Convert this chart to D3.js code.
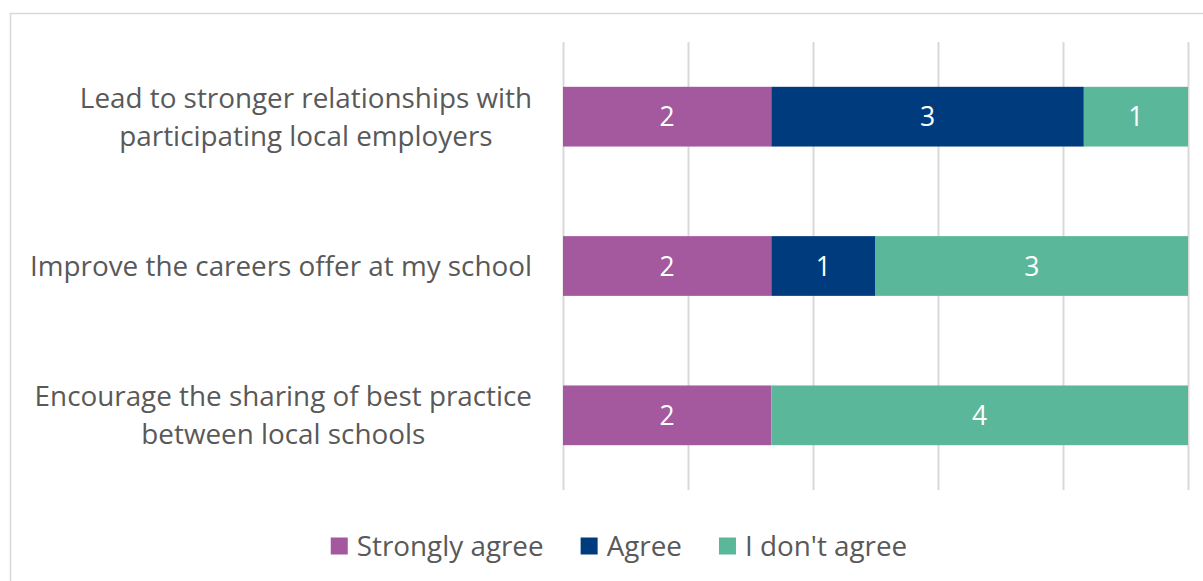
<!DOCTYPE html>
<html>
<head>
<meta charset="utf-8">
<script src="https://cdn.jsdelivr.net/npm/d3@7"></script>
<style>
  html, body { margin: 0; padding: 0; background: #fff; }
  svg { display: block; }
  text { font-family: "Open Sans", Lato, sans-serif; }
</style>
</head>
<body>
<svg id="chart" width="1203" height="581"></svg>
<script>
// Survey statements (top to bottom), each split into display lines
const categories = [
  "Lead to stronger relationships with participating local employers",
  "Improve the careers offer at my school",
  "Encourage the sharing of best practice between local schools"
];
const categoryLines = [
  ["Lead to stronger relationships with", "participating local employers"],
  ["Improve the careers offer at my school"],
  ["Encourage the sharing of best practice", "between local schools"]
];
const seriesNames = ["Strongly agree", "Agree", "I don't agree"];
const stronglyAgree = [2, 2, 2];
const agree = [3, 1, 0];
const dontAgree = [1, 3, 4];
const xTicks = [0, 1.2, 2.4, 3.6, 4.8, 6];
const colors = ["#A4589E", "#003C7D", "#5BB799"];

const svg = d3.select("#chart");

// pick a font size so the longest single-line label is ~502px wide
const probe = svg.append("text").attr("font-size", 26).text(categoryLines[1][0]);
const fs = 26 * 502 / probe.node().getComputedTextLength();
probe.remove();

// chart frame
svg.append("rect")
  .attr("x", 10.5).attr("y", 13.5)
  .attr("width", 1200).attr("height", 600)
  .attr("fill", "none").attr("stroke", "#D9D9D9").attr("stroke-width", 1.5);

const plot = { left: 563, right: 1188, top: 42, bottom: 490 };

const x = d3.scaleLinear().domain([0, 6]).range([plot.left, plot.right]);
const y = d3.scaleBand().domain(categories).range([plot.top, plot.bottom]).paddingInner(0.6).paddingOuter(0.3);

// vertical gridlines
svg.append("g")
  .attr("transform", `translate(0,${plot.bottom})`)
  .call(d3.axisBottom(x).tickValues(xTicks).tickSize(-(plot.bottom - plot.top)).tickFormat(""))
  .call(g => g.select(".domain").remove())
  .call(g => g.selectAll(".tick line").attr("stroke", "#D9D9D9").attr("stroke-width", 2));

// stacked data
const rows = categories.map((c, i) => ({
  cat: c,
  "Strongly agree": stronglyAgree[i],
  "Agree": agree[i],
  "I don't agree": dontAgree[i]
}));
const stack = d3.stack().keys(seriesNames)(rows);

const layers = svg.append("g").selectAll("g").data(stack).join("g")
  .attr("fill", (d, i) => colors[i]);

layers.selectAll("rect").data(d => d.filter(s => s[1] - s[0] > 0)).join("rect")
  .attr("x", d => x(d[0]))
  .attr("y", d => y(d.data.cat))
  .attr("width", d => x(d[1]) - x(d[0]))
  .attr("height", y.bandwidth());

layers.selectAll("text").data(d => d.filter(s => s[1] - s[0] > 0)).join("text")
  .attr("x", d => (x(d[0]) + x(d[1])) / 2)
  .attr("y", d => y(d.data.cat) + y.bandwidth() / 2)
  .attr("dy", "0.36em")
  .attr("text-anchor", "middle")
  .attr("fill", "#fff")
  .attr("font-size", fs * 0.95)
  .text(d => d[1] - d[0]);

// category labels: block right-aligned, lines centred within the block
const labelRight = 532, lineGap = 38;
categories.forEach((c, i) => {
  const lines = categoryLines[i];
  const g = svg.append("g");
  const texts = lines.map((ln, j) => g.append("text")
    .attr("font-size", fs)
    .attr("fill", "#595959")
    .attr("text-anchor", "middle")
    .attr("dy", "0.36em")
    .attr("y", y(c) + y.bandwidth() / 2 + (j - (lines.length - 1) / 2) * lineGap)
    .text(ln));
  const maxW = d3.max(texts, t => t.node().getComputedTextLength());
  texts.forEach(t => t.attr("x", labelRight - maxW / 2));
});

// legend
const legendY = 546;
const legend = svg.append("g");
let lx = 0;
seriesNames.forEach((name, i) => {
  const g = legend.append("g").attr("transform", `translate(${lx},0)`);
  g.append("rect").attr("x", 0).attr("y", legendY - 8.5).attr("width", 17).attr("height", 17).attr("fill", colors[i]);
  const t = g.append("text").attr("x", 26).attr("y", legendY).attr("dy", "0.36em")
    .attr("font-size", fs).attr("fill", "#595959").text(name);
  lx += 26 + t.node().getComputedTextLength() + 37;
});
const totalW = lx - 37;
legend.attr("transform", `translate(${(330 + 908) / 2 - totalW / 2},0)`);
</script>
</body>
</html>
